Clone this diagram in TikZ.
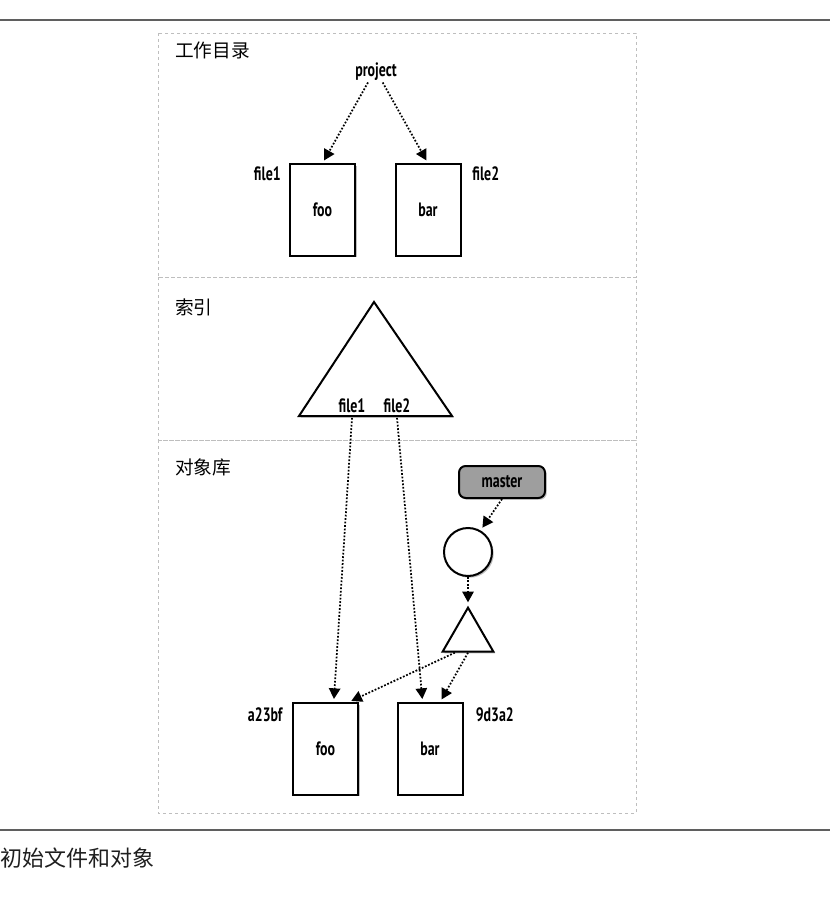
\documentclass[tikz,border=0pt]{standalone}
\usepackage{fontspec}
\usepackage{xcolor}
\newfontfamily\lblfont[FakeStretch=0.72, UprightFont=* Bold]{PT Sans}
\newfontfamily\cjkfont{Noto Sans CJK SC}
\definecolor{RuleGray}{RGB}{95,95,95}
\definecolor{PanelGray}{RGB}{190,190,190}
\definecolor{RefGray}{RGB}{158,158,158}
\definecolor{TextGray}{RGB}{30,30,30}
\usetikzlibrary{
  shapes, shapes.geometric,
  arrows.meta,
  positioning, calc, shadows
}
\tikzset{
  % Soft shadow under shapes
  softshadow/.style={
    drop shadow={shadow xshift=1.3pt, shadow yshift=-1.3pt,
                 fill=black, opacity=0.25}
  },
  % Blob box (file content)
  blobbox/.style={
    rectangle, draw, line width=1.5pt, fill=white,
    minimum width=48.75pt, minimum height=68.5pt,
    font=\lblfont\fontsize{14.5}{16}\selectfont, softshadow
  },
  % Commit circle
  commitcirc/.style={
    circle, draw, line width=1.5pt, fill=white,
    minimum size=36pt, inner sep=0pt, softshadow
  },
  % Tree triangle
  treetri/.style={
    regular polygon, regular polygon sides=3, draw, line width=1.5pt,
    fill=white, minimum size=44pt, inner sep=0pt, softshadow
  },
  % Branch ref box
  refbox/.style={
    rectangle, rounded corners=5pt, draw, line width=1.5pt,
    fill=RefGray, minimum width=64.5pt, minimum height=24pt,
    font=\lblfont\fontsize{14.5}{16}\selectfont, softshadow
  },
  % Panel frame
  panel/.style={draw=PanelGray, line width=0.6pt, dash pattern=on 2pt off 2.5pt},
  % Labels
  lbl/.style={font=\lblfont\fontsize{14.5}{16}\selectfont, inner sep=1pt},
  plabel/.style={font=\cjkfont\fontsize{14}{16}\selectfont, inner sep=0pt, anchor=west},
  % Arrows
  arr/.style={-{Triangle[length=8pt,width=8.5pt]}, line width=1.3pt,
              dash pattern=on 1.3pt off 1.3pt, shorten >=2.5pt},
}

\begin{document}
\begin{tikzpicture}[x=0.75pt, y=-0.75pt]
  \useasboundingbox (0,0) rectangle (830,923);

  %% ---- PAGE RULES ----
  \draw[RuleGray, line width=1.3pt] (0,20) -- (830,20);
  \draw[RuleGray, line width=1.3pt] (0,830) -- (830,830);

  %% ---- PANELS ----
  \draw[panel] (158,33) rectangle (636,277);
  \draw[panel] (158,277) rectangle (636,440);
  \draw[panel] (158,440) rectangle (636,813);
  \node[plabel] (pwork)  at (175,50)  {工作目录};
  \node[plabel] (pindex) at (175,307) {索引};
  \node[plabel] (pobj)   at (175,467) {对象库};

  %% ---- WORKING DIRECTORY ----
  \node[lbl] (proj) at (376,72) {project};
  \node[blobbox] (wfoo) at (322.5,210) {foo};
  \node[blobbox] (wbar) at (428,210) {bar};
  \node[lbl, anchor=north east] (wfile1) at ([xshift=-5pt,yshift=-1pt]wfoo.north west) {file1};
  \node[lbl, anchor=north west] (wfile2) at ([xshift=7pt,yshift=-1pt]wbar.north east) {file2};

  \draw[arr] ([xshift=-6pt]proj.south) -- (wfoo.north);
  \draw[arr] ([xshift=5pt]proj.south) -- (wbar.north);

  %% ---- INDEX ----
  \coordinate (itop)   at (374,302);
  \coordinate (ileft)  at (299,416);
  \coordinate (iright) at (452,416);
  \draw[line width=1.5pt, fill=white, softshadow, line join=miter]
    (itop) -- (ileft) -- (iright) -- cycle;
  \node[lbl, anchor=base] (ifile1) at (352,412) {file1};
  \node[lbl, anchor=base] (ifile2) at (397,412) {file2};

  %% ---- OBJECT STORE ----
  \node[refbox] (master) at (502,482) {master};
  \node[commitcirc] (commit) at (468,552) {};
  \node[treetri] (tree) at (468,637) {};
  \node[blobbox] (ofoo) at (325.5,749) {foo};
  \node[blobbox] (obar) at (430,749) {bar};
  \node[lbl, anchor=north east] (ofoo_id) at ([xshift=-6pt,yshift=-3pt]ofoo.north west) {a23bf};
  \node[lbl, anchor=north west] (obar_id) at ([xshift=8pt,yshift=-3pt]obar.north east) {9d3a2};

  \draw[arr] (master.south) -- (commit.60);
  \draw[arr] (commit.south) -- (tree.north);
  \draw[arr] (tree.230) -- (ofoo.64);
  \draw[arr] (tree.south) -- (obar.78);

  %% Index -> objects
  \draw[arr] ([yshift=-3pt]ifile1.south) -- (ofoo.80);
  \draw[arr] ([yshift=-3pt]ifile2.south) -- (obar.99);

  %% ---- CAPTION ----
  \node[font=\cjkfont\fontsize{16.5}{18}\selectfont, text=TextGray, anchor=west, inner sep=0pt]
    (caption) at (0,858) {初始文件和对象};

\end{tikzpicture}
\end{document}
